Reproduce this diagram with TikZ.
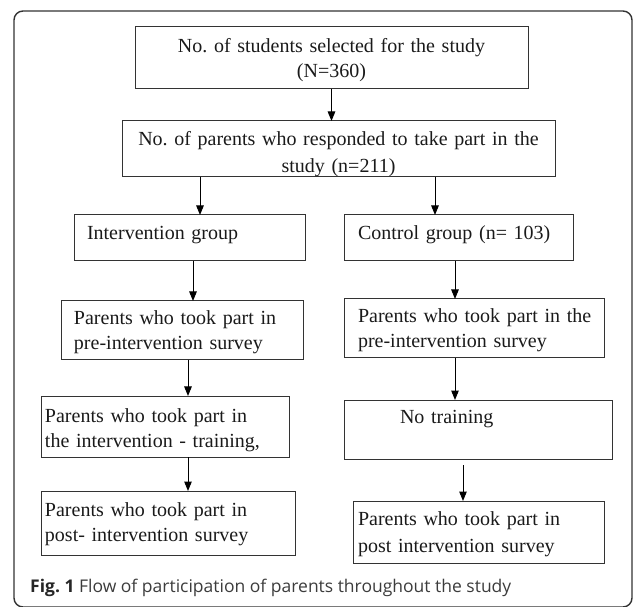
\documentclass[tikz,border=0pt]{standalone}
\usepackage{fontspec}
\setmainfont{Liberation Serif}
\newfontfamily\capfont{Open Sans}
\usetikzlibrary{arrows.meta,calc}
\definecolor{boxline}{HTML}{333333}
\definecolor{txt}{HTML}{1A1A1A}
\definecolor{captxt}{HTML}{3C3C3C}
\tikzset{
  box/.style={draw=boxline, line width=1pt, rectangle, inner sep=0pt, outer sep=0pt, anchor=north west},
  btxt/.style={text=txt, inner sep=0pt, outer sep=0pt, text width=#1},
  arr/.style={draw=black, line width=1pt, -{Triangle[length=9.5pt,width=7.5pt]}},
  frame/.style={draw=boxline, line width=1.4pt, rounded corners=9pt}
}
\newcommand{\fsz}[1]{\fontsize{20}{#1}\selectfont}
\frenchspacing
\begin{document}
\begin{tikzpicture}[x=1pt,y=-1pt]
\useasboundingbox (0,0) rectangle (633,607);
\draw[frame] (14,11) rectangle (632,607);

% boxes
\node[box, minimum width=393pt, minimum height=62pt] (b1) at (135,27) {};
\node[box, minimum width=433pt, minimum height=56pt] (b2) at (122,121) {};
\node[box, minimum width=231pt, minimum height=46pt] (b3l) at (74,215) {};
\node[box, minimum width=229pt, minimum height=46pt] (b3r) at (344,215) {};
\node[box, minimum width=242pt, minimum height=59pt] (b4l) at (61,301) {};
\node[box, minimum width=260pt, minimum height=59pt] (b4r) at (344,299) {};
\node[box, minimum width=248pt, minimum height=61pt] (b5l) at (41,396) {};
\node[box, minimum width=268pt, minimum height=59pt] (b5r) at (344,400) {};
\node[box, minimum width=254pt, minimum height=64pt] (b6l) at (41,491) {};
\node[box, minimum width=251pt, minimum height=62pt] (b6r) at (353,501) {};

% texts
\node[btxt=420pt, align=center, anchor=base, font=\fsz{25}] (t1) at (331.5,53)
  {No.\ of students selected for the study\\(N=360)};
\node[btxt=430pt, align=center, anchor=base, font=\fsz{27}] (t2) at (338.5,146)
  {No.\ of parents who responded to take part in the\\study (n=211)};
\node[btxt=220pt, align=left, anchor=base west, font=\fsz{25}] (t3l) at (87,240)
  {Intervention group};
\node[btxt=220pt, align=left, anchor=base west, font=\fsz{25}] (t3r) at (358,240)
  {Control group (n= 103)};
\node[btxt=230pt, align=left, anchor=base west, font=\fsz{25}] (t4l) at (74,325)
  {Parents who took part in\\pre-intervention survey};
\node[btxt=250pt, align=left, anchor=base west, font=\fsz{25}] (t4r) at (358,323)
  {Parents who took part in the\\pre-intervention survey};
\node[btxt=245pt, align=left, anchor=base west, font=\fsz{25}] (t5l) at (45,422)
  {Parents who took part in\\the intervention - training,};
\node[btxt=200pt, align=left, anchor=base west, font=\fsz{25}] (t5r) at (400,423)
  {No training};
\node[btxt=245pt, align=left, anchor=base west, font=\fsz{25}] (t6l) at (45,516)
  {Parents who took part in\\post- intervention survey};
\node[btxt=245pt, align=left, anchor=base west, font=\fsz{27}] (t6r) at (358,525)
  {Parents who took part in\\post intervention survey};

% caption
\node[inner sep=0pt, anchor=base west, text=captxt, font=\capfont\fontsize{17.5}{20}\selectfont] (cap) at (30,592)
  {{\bfseries\color{black!85}Fig. 1} Flow of participation of parents throughout the study};

% connector columns
\coordinate (c1) at (200,0);
\coordinate (c2) at (435,0);
\coordinate (c3) at (193,0);
\coordinate (c4) at (455,0);
\coordinate (c5) at (188,0);
\coordinate (c6) at (463,0);

\draw[arr] (b1.south) -- (b1.south |- b2.north);
\draw[arr] (b2.south -| c1) -- (b3l.north -| c1);
\draw[arr] (b2.south -| c2) -- (b3r.north -| c2);
\draw[arr] (b3l.south -| c3) -- (b4l.north -| c3);
\draw[arr] (b3r.south -| c4) -- (b4r.north -| c4);
\draw[arr] (b4l.south -| c5) -- (b5l.north -| c5);
\draw[arr] (b4r.south -| c4) -- (b5r.north -| c4);
\draw[arr] (b5l.south -| c5) -- (b6l.north -| c5);
\draw[arr, shorten <=6pt] (b5r.south -| c6) -- (b6r.north -| c6);
\end{tikzpicture}
\end{document}
